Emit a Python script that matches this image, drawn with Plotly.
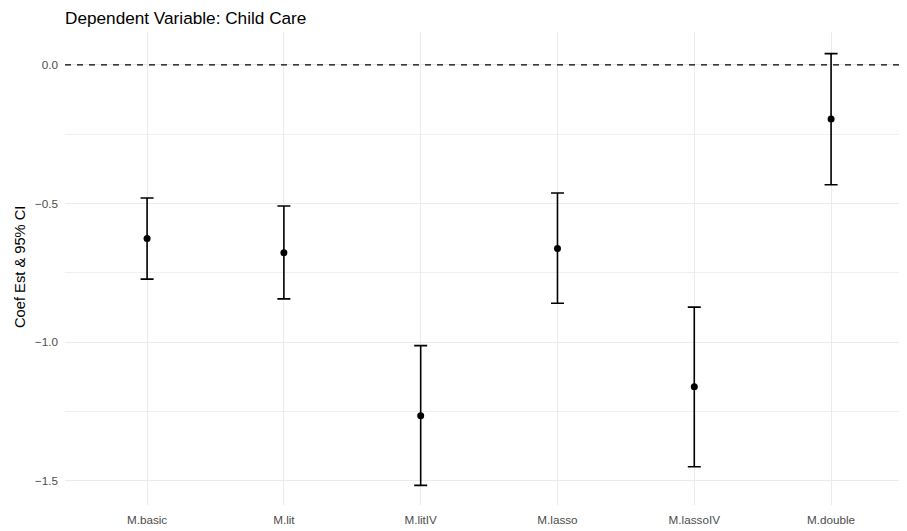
import plotly.graph_objects as go

models = ["M.basic", "M.lit", "M.litIV", "M.lasso", "M.lassoIV", "M.double"]
estimate = [-0.626, -0.678, -1.266, -0.662, -1.161, -0.195]
ci_lower = [-0.773, -0.844, -1.517, -0.860, -1.450, -0.432]
ci_upper = [-0.480, -0.509, -1.013, -0.462, -0.874, 0.041]

err_plus = [u - e for u, e in zip(ci_upper, estimate)]
err_minus = [e - l for e, l in zip(estimate, ci_lower)]

# page body has an 8px margin, so the figure is sized to fit the window
W, H = 899, 523
L, R, T, B = 57, 0, 24, 26
PW, PH = W - L - R, H - T - B

fig = go.Figure()
fig.add_trace(go.Scatter(
    x=models, y=estimate, mode="markers",
    marker=dict(color="black", size=7),
    error_y=dict(type="data", array=err_plus, arrayminus=err_minus,
                 color="black", thickness=1.6, width=6.5),
    showlegend=False,
))
fig.add_hline(y=0, line=dict(color="black", width=1.3, dash="6px,6px"))

fig.update_layout(
    width=W, height=H,
    margin=dict(l=L, r=R, t=T, b=B),
    plot_bgcolor="white", paper_bgcolor="white",
    font=dict(family="Liberation Sans, Arial, sans-serif", color="#4D4D4D", size=12),
    title=dict(text="Dependent Variable: Child Care", x=0, xref="paper",
               xanchor="left", y=1 - 9.5 / H, yref="container", yanchor="middle",
               font=dict(size=17.2, color="black")),
    xaxis=dict(type="category", range=[-0.6, 5.555], showgrid=True,
               gridcolor="#EBEBEB", gridwidth=1.1, zeroline=False, ticks="",
               showline=False, ticklabelstandoff=6,
               tickfont=dict(size=11.7, color="#4D4D4D")),
    yaxis=dict(range=[-1.588, 0.119], tickvals=[0, -0.5, -1.0, -1.5],
               ticktext=["0.0", "\u22120.5", "\u22121.0", "\u22121.5"],
               showgrid=True, gridcolor="#EBEBEB", gridwidth=1.1,
               minor=dict(tickvals=[-0.25, -0.75, -1.25], showgrid=True,
                          gridcolor="#F0F0F0", gridwidth=0.6),
               zeroline=False, ticks="", showline=False, ticklabelstandoff=6,
               tickfont=dict(size=11.7, color="#4D4D4D")),
)
fig.add_annotation(text="Coef Est & 95% CI", textangle=-90, showarrow=False,
                   xref="paper", yref="paper",
                   x=(12 - L) / PW, y=(H - B - 259) / PH,
                   xanchor="center", yanchor="middle",
                   font=dict(size=14.7, color="black"))
fig.write_html("out.html")
